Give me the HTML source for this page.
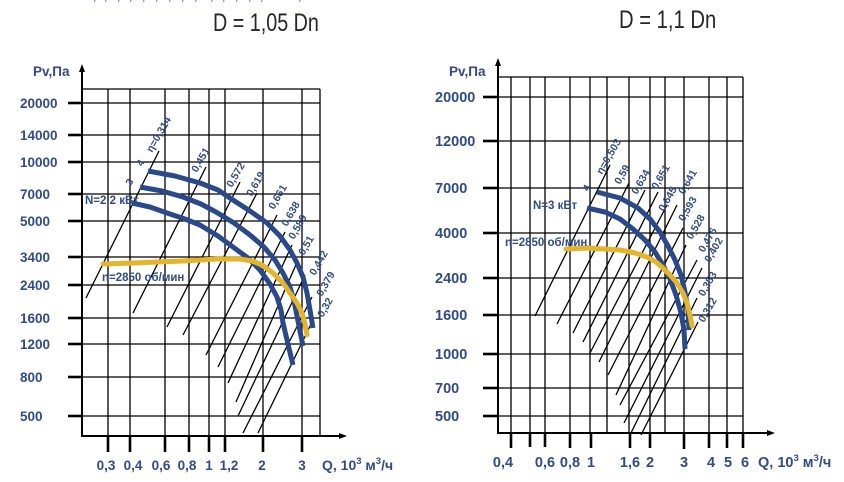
<!DOCTYPE html>
<html>
<head>
<meta charset="utf-8">
<style>
html,body{margin:0;padding:0;background:#fff;}
svg{display:block;}
</style>
</head>
<body>
<svg width="844" height="482" viewBox="0 0 844 482" xmlns="http://www.w3.org/2000/svg" font-family="'Liberation Sans', Arial, sans-serif">
<rect width="844" height="482" fill="#fff"/>

<!-- cropped top text fragments -->
<g stroke="#6f84bb" stroke-width="1.1">
<line x1="95" y1="0" x2="94.5" y2="2"/><line x1="106" y1="0" x2="105.5" y2="2"/>
<line x1="119" y1="0" x2="118.5" y2="2"/><line x1="131" y1="0" x2="130.5" y2="2"/>
<line x1="144" y1="0" x2="143.5" y2="2"/><line x1="157" y1="0" x2="156.5" y2="2"/>
<line x1="170" y1="0" x2="169.5" y2="2"/><line x1="183" y1="0" x2="182.5" y2="2"/>
<line x1="196" y1="0" x2="195.5" y2="2"/><line x1="212" y1="0" x2="211.5" y2="2"/>
<line x1="224" y1="0" x2="223.5" y2="2"/><line x1="237" y1="0" x2="236.5" y2="2"/>
<line x1="250" y1="0" x2="249.5" y2="2"/><line x1="262" y1="0" x2="261.5" y2="2"/>
<line x1="300" y1="0" x2="299.5" y2="2"/>
</g>

<!-- Titles -->
<text transform="translate(213,31) scale(0.79,1)" font-size="25" fill="#262626">D = 1,05 Dn</text>
<text transform="translate(619,28) scale(0.81,1)" font-size="25" fill="#262626">D = 1,1 Dn</text>

<!-- ================= LEFT CHART ================= -->
<g stroke="#000" stroke-width="1.3" fill="none">
  <line x1="108" y1="89" x2="108" y2="436"/>
  <line x1="130" y1="89" x2="130" y2="436"/>
  <line x1="165" y1="89" x2="165" y2="436"/>
  <line x1="189" y1="89" x2="189" y2="436"/>
  <line x1="209" y1="89" x2="209" y2="436"/>
  <line x1="225" y1="89" x2="225" y2="436"/>
  <line x1="263" y1="89" x2="263" y2="436"/>
  <line x1="302" y1="89" x2="302" y2="436"/>
  <line x1="320" y1="89" x2="320" y2="436"/>
  <line x1="82" y1="89" x2="320" y2="89"/>
  <line x1="82" y1="103" x2="320" y2="103"/>
  <line x1="82" y1="135" x2="320" y2="135"/>
  <line x1="82" y1="162" x2="320" y2="162"/>
  <line x1="82" y1="194" x2="320" y2="194"/>
  <line x1="82" y1="221" x2="320" y2="221"/>
  <line x1="82" y1="257" x2="320" y2="257"/>
  <line x1="82" y1="285" x2="320" y2="285"/>
  <line x1="82" y1="318" x2="320" y2="318"/>
  <line x1="82" y1="344" x2="320" y2="344"/>
  <line x1="82" y1="377" x2="320" y2="377"/>
  <line x1="82" y1="416" x2="320" y2="416"/>
</g>
<g stroke="#000" fill="none">
  <line x1="82" y1="70" x2="82" y2="437" stroke-width="2"/>
  <line x1="81" y1="436" x2="341" y2="436" stroke-width="2"/>
  <g stroke-width="2.6">
    <line x1="68" y1="103" x2="82" y2="103"/>
    <line x1="68" y1="135" x2="82" y2="135"/>
    <line x1="68" y1="162" x2="82" y2="162"/>
    <line x1="68" y1="194" x2="82" y2="194"/>
    <line x1="68" y1="221" x2="82" y2="221"/>
    <line x1="68" y1="257" x2="82" y2="257"/>
    <line x1="68" y1="285" x2="82" y2="285"/>
    <line x1="68" y1="318" x2="82" y2="318"/>
    <line x1="68" y1="344" x2="82" y2="344"/>
    <line x1="68" y1="377" x2="82" y2="377"/>
    <line x1="68" y1="416" x2="82" y2="416"/>
    <line x1="108" y1="436" x2="108" y2="452"/>
    <line x1="130" y1="436" x2="130" y2="452"/>
    <line x1="165" y1="436" x2="165" y2="452"/>
    <line x1="189" y1="436" x2="189" y2="452"/>
    <line x1="209" y1="436" x2="209" y2="452"/>
    <line x1="225" y1="436" x2="225" y2="452"/>
    <line x1="263" y1="436" x2="263" y2="452"/>
    <line x1="302" y1="436" x2="302" y2="452"/>
  </g>
</g>
<polygon points="82,64 79,72 85,72" fill="#000"/>
<polygon points="347,436 339,433 339,439" fill="#000"/>

<g stroke="#000" stroke-width="1.3">
  <line x1="159" y1="151" x2="86" y2="298"/>
  <line x1="206" y1="167" x2="133" y2="313"/>
  <line x1="240" y1="182" x2="167" y2="327"/>
  <line x1="257" y1="193" x2="183" y2="335"/>
  <line x1="277" y1="215" x2="206" y2="355"/>
  <line x1="285" y1="232" x2="218" y2="367"/>
  <line x1="292" y1="245" x2="228" y2="383"/>
  <line x1="298" y1="260" x2="236" y2="402"/>
  <line x1="305" y1="275" x2="238" y2="416"/>
  <line x1="312" y1="297" x2="243" y2="433"/>
  <line x1="313" y1="320" x2="258" y2="433"/>
</g>

<g fill="none" stroke="#29498a" stroke-width="5" stroke-linejoin="round">
  <polyline points="148,171 175,176 200,183 218,190 233,200 250,211 267,223 280,236 290,250 297,263 303,277 307,293 310,310 313,328"/>
  <polyline points="140,187 162,191 183,197 201,204 216,212 234,223 250,235 264,247 275,260 283,273 290,287 294,301 297,316 303,346"/>
  <polyline points="132,203 150,207 167,213 185,219 200,225 218,236 233,247 248,258 260,270 270,284 277,297 281,310 283,323 293,365"/>
</g>
<polyline fill="none" stroke="#e4b42a" stroke-width="5" stroke-linejoin="round" stroke-linecap="round"
  points="103,264 133,263 183,261 217,259 240,259 252,261 262,265 273,273 283,283 290,293 297,303 302,313 305,324 307,335"/>

<g fill="#2f4b8a" font-weight="bold" font-size="13.5">
  <text x="33" y="76">Pv,Па</text>
  <text x="20" y="108">20000</text>
  <text x="20" y="140">14000</text>
  <text x="20" y="167">10000</text>
  <text x="20" y="199">7000</text>
  <text x="20" y="226">5000</text>
  <text x="20" y="262">3400</text>
  <text x="20" y="290">2400</text>
  <text x="20" y="323">1600</text>
  <text x="20" y="349">1200</text>
  <text x="20" y="382">800</text>
  <text x="20" y="421">500</text>
  <g text-anchor="middle">
    <text x="106" y="470">0,3</text>
    <text x="133" y="470">0,4</text>
    <text x="161" y="470">0,6</text>
    <text x="187" y="470">0,8</text>
    <text x="209" y="470">1</text>
    <text x="229" y="470">1,2</text>
    <text x="262" y="470">2</text>
    <text x="302" y="470">3</text>
  </g>
  <text x="322" y="470" font-size="14">Q, 10<tspan font-size="9.5" dy="-6">3</tspan><tspan dy="6"> м</tspan><tspan font-size="9.5" dy="-6">3</tspan><tspan dy="6">/ч</tspan></text>
</g>
<g fill="#2f4b8a" font-weight="bold" font-size="11.5">
  <text x="85" y="204">N=2,2 кВт</text>
  <text x="102" y="281">n=2850 об/мин</text>
  <text transform="translate(142,167) rotate(-60)" font-size="10">4</text>
  <text transform="translate(131,186) rotate(-60)" font-size="10">3</text>
</g>
<g fill="#2f4b8a" font-size="10.5" font-weight="bold">
  <text transform="translate(152,153) rotate(-60)">η=0,314</text>
  <text transform="translate(197,173) rotate(-60)">0,451</text>
  <text transform="translate(232,188) rotate(-60)">0,572</text>
  <text transform="translate(252,197) rotate(-60)">0,619</text>
  <text transform="translate(274,210) rotate(-60)">0,661</text>
  <text transform="translate(287,227) rotate(-60)">0,638</text>
  <text transform="translate(294,240) rotate(-60)">0,589</text>
  <text transform="translate(304,256) rotate(-60)">0,51</text>
  <text transform="translate(315,276) rotate(-60)">0,442</text>
  <text transform="translate(322,297) rotate(-60)">0,379</text>
  <text transform="translate(323,318) rotate(-60)">0,32</text>
</g>

<!-- ================= RIGHT CHART ================= -->
<g stroke="#000" stroke-width="1.3" fill="none">
  <line x1="511" y1="77" x2="511" y2="433"/>
  <line x1="530" y1="77" x2="530" y2="433"/>
  <line x1="545" y1="77" x2="545" y2="433"/>
  <line x1="570" y1="77" x2="570" y2="433"/>
  <line x1="590" y1="77" x2="590" y2="433"/>
  <line x1="607" y1="77" x2="607" y2="433"/>
  <line x1="629" y1="77" x2="629" y2="433"/>
  <line x1="650" y1="77" x2="650" y2="433"/>
  <line x1="665" y1="77" x2="665" y2="433"/>
  <line x1="684" y1="77" x2="684" y2="433"/>
  <line x1="709" y1="77" x2="709" y2="433"/>
  <line x1="727" y1="77" x2="727" y2="433"/>
  <line x1="743" y1="77" x2="743" y2="433"/>
  <line x1="498" y1="77" x2="743" y2="77"/>
  <line x1="498" y1="97" x2="743" y2="97"/>
  <line x1="498" y1="141" x2="743" y2="141"/>
  <line x1="498" y1="188" x2="743" y2="188"/>
  <line x1="498" y1="233" x2="743" y2="233"/>
  <line x1="498" y1="278" x2="743" y2="278"/>
  <line x1="498" y1="315" x2="743" y2="315"/>
  <line x1="498" y1="354" x2="743" y2="354"/>
  <line x1="498" y1="388" x2="743" y2="388"/>
  <line x1="498" y1="416" x2="743" y2="416"/>
</g>
<g stroke="#000" fill="none">
  <line x1="498" y1="64" x2="498" y2="434" stroke-width="2"/>
  <line x1="497" y1="433" x2="769" y2="433" stroke-width="2"/>
  <g stroke-width="2.6">
    <line x1="483" y1="97" x2="498" y2="97"/>
    <line x1="483" y1="141" x2="498" y2="141"/>
    <line x1="483" y1="188" x2="498" y2="188"/>
    <line x1="483" y1="233" x2="498" y2="233"/>
    <line x1="483" y1="278" x2="498" y2="278"/>
    <line x1="483" y1="315" x2="498" y2="315"/>
    <line x1="483" y1="354" x2="498" y2="354"/>
    <line x1="483" y1="388" x2="498" y2="388"/>
    <line x1="483" y1="416" x2="498" y2="416"/>
    <line x1="511" y1="433" x2="511" y2="448"/>
    <line x1="530" y1="433" x2="530" y2="447"/>
    <line x1="545" y1="433" x2="545" y2="447"/>
    <line x1="570" y1="433" x2="570" y2="448"/>
    <line x1="591" y1="433" x2="591" y2="448"/>
    <line x1="630" y1="433" x2="630" y2="448"/>
    <line x1="650" y1="433" x2="650" y2="448"/>
    <line x1="684" y1="433" x2="684" y2="449"/>
    <line x1="709" y1="433" x2="709" y2="448"/>
    <line x1="727" y1="433" x2="727" y2="448"/>
    <line x1="743" y1="433" x2="743" y2="448"/>
  </g>
</g>
<polygon points="498,58 495,66 501,66" fill="#000"/>
<polygon points="775,433 767,430 767,436" fill="#000"/>

<g stroke="#000" stroke-width="1.3">
  <line x1="610" y1="165" x2="535" y2="316"/>
  <line x1="629" y1="183" x2="557" y2="324"/>
  <line x1="645" y1="190" x2="573" y2="333"/>
  <line x1="658" y1="192" x2="583" y2="342"/>
  <line x1="667" y1="205" x2="590" y2="353"/>
  <line x1="677" y1="205" x2="599" y2="362"/>
  <line x1="683" y1="228" x2="608" y2="375"/>
  <line x1="686" y1="245" x2="616" y2="395"/>
  <line x1="697" y1="260" x2="620" y2="405"/>
  <line x1="702" y1="268" x2="624" y2="423"/>
  <line x1="697" y1="298" x2="631" y2="433"/>
  <line x1="698" y1="322" x2="641" y2="435"/>
</g>

<g fill="none" stroke="#29498a" stroke-width="5" stroke-linejoin="round">
  <polyline points="597,192 620,198 638,208 650,219 660,232 668,246 675,260 681,275 685,292 688,310 689,330"/>
  <polyline points="587,208 605,212 620,219 633,229 645,240 655,252 663,265 670,279 676,295 681,313 684,330 685,349"/>
</g>
<polyline fill="none" stroke="#e4b42a" stroke-width="5" stroke-linejoin="round" stroke-linecap="round"
  points="566,249 587,248 605,249 620,250 635,253 647,257 656,262 663,268 670,275 677,283 683,293 687,303 690,315 692,326"/>

<g fill="#2f4b8a" font-weight="bold" font-size="14.5">
  <text x="449" y="76" font-size="13.5">Pv,Па</text>
  <text x="435" y="102">20000</text>
  <text x="435" y="146">12000</text>
  <text x="435" y="193">7000</text>
  <text x="435" y="238">4000</text>
  <text x="435" y="283">2400</text>
  <text x="435" y="320">1600</text>
  <text x="435" y="359">1000</text>
  <text x="435" y="393">700</text>
  <text x="435" y="421">500</text>
  <g text-anchor="middle">
    <text x="503" y="467">0,4</text>
    <text x="545" y="467">0,6</text>
    <text x="570" y="467">0,8</text>
    <text x="591" y="467">1</text>
    <text x="630" y="467">1,6</text>
    <text x="650" y="467">2</text>
    <text x="684" y="467">3</text>
    <text x="711" y="467">4</text>
    <text x="728" y="467">5</text>
    <text x="745" y="467">6</text>
  </g>
  <text x="758" y="467">Q, 10<tspan font-size="9.5" dy="-6">3</tspan><tspan dy="6"> м</tspan><tspan font-size="9.5" dy="-6">3</tspan><tspan dy="6">/ч</tspan></text>
</g>
<g fill="#2f4b8a" font-weight="bold" font-size="11.5">
  <text x="533" y="209">N=3 кВт</text>
  <text x="505" y="246">n=2850 об/мин</text>
  <text transform="translate(588,192) rotate(-60)" font-size="10">4</text>
</g>
<g fill="#2f4b8a" font-size="10.5" font-weight="bold">
  <text transform="translate(602,175) rotate(-60)">η=0,503</text>
  <text transform="translate(620,185) rotate(-60)">0,59</text>
  <text transform="translate(637,195) rotate(-60)">0,634</text>
  <text transform="translate(657,190) rotate(-60)">0,651</text>
  <text transform="translate(664,212) rotate(-60)">0,645</text>
  <text transform="translate(684,195) rotate(-60)">0,641</text>
  <text transform="translate(684,222) rotate(-60)">0,593</text>
  <text transform="translate(692,240) rotate(-60)">0,528</text>
  <text transform="translate(704,253) rotate(-60)">0,476</text>
  <text transform="translate(710,263) rotate(-60)">0,402</text>
  <text transform="translate(704,297) rotate(-60)">0,353</text>
  <text transform="translate(704,323) rotate(-60)">0,312</text>
</g>
</svg>
</body>
</html>
